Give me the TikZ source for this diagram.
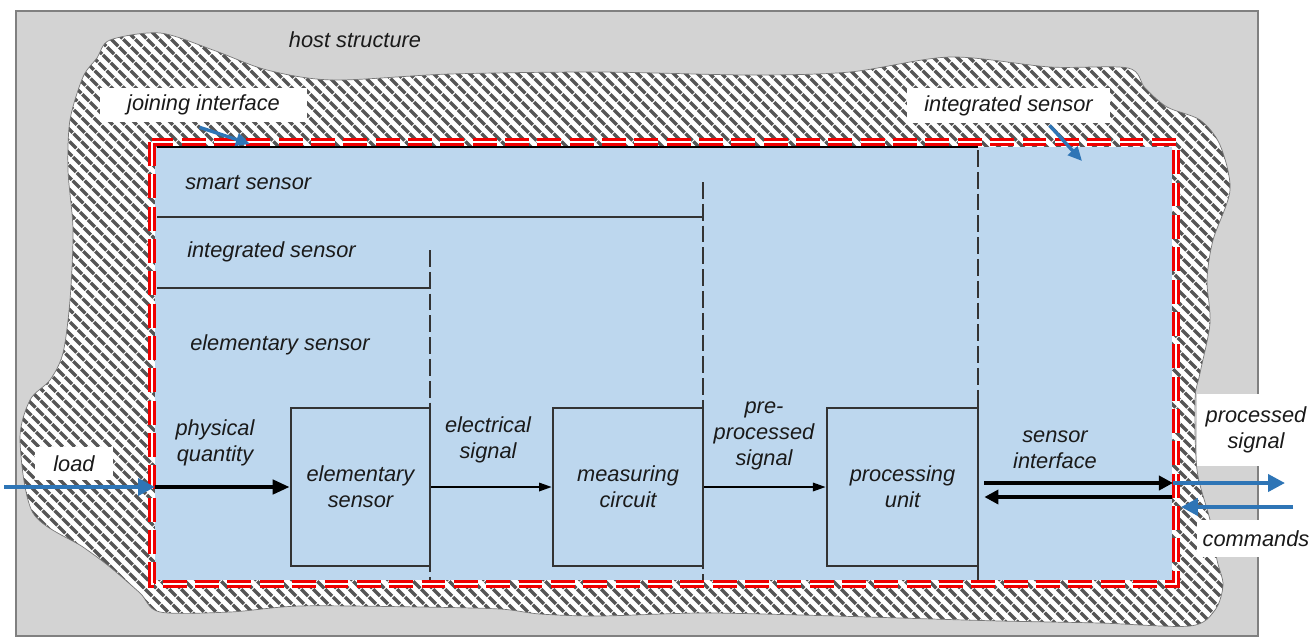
\documentclass[tikz,border=0pt]{standalone}
\usepackage{fontspec}
\setmainfont{Liberation Sans}
\usepackage{tikz}
\usetikzlibrary{calc,arrows.meta}
\definecolor{hostfill}{HTML}{D3D3D3}
\definecolor{hostline}{HTML}{808080}
\definecolor{hatchc}{HTML}{555555}
\definecolor{sensorfill}{HTML}{BDD7EE}
\definecolor{jointred}{HTML}{F00000}
\definecolor{pointer}{HTML}{2E75B6}
\definecolor{ink}{HTML}{1A1A1A}
\definecolor{wire}{HTML}{333333}
\newcommand\blobpath{plot[smooth cycle, tension=0.5] coordinates {
  (110,40) (160,33) (213,50) (267,70) (333,80) (450,74) (600,72) (750,75)
  (850,72) (950,57) (1050,67) (1128,68) (1145,88) (1167,107) (1200,120)
  (1220,145) (1230,190) (1213,240) (1207,280) (1210,323) (1200,373) (1195,400)
  (1197,470) (1210,520) (1217,560) (1223,585) (1215,610) (1190,626) (1100,623)
  (1000,621) (900,618) (800,615) (700,613) (600,616) (540,614) (500,609)
  (420,607) (300,606) (230,612) (160,612) (140,593) (110,567) (83,547)
  (33,513) (20,440) (30,400) (50,380) (63,353) (70,300) (73,230) (68,170)
  (70,120) (83,77) (97,58)}}
\tikzset{
  host/.style={fill=hostfill, draw=hostline, line width=0.8pt},
  blobline/.style={draw=hatchc!80, line width=0.5pt},
  hatch/.style={draw=hatchc, line width=2.3pt, dash pattern=on 7pt off 0.9pt},
  joint/.style={draw=jointred, line width=5.5pt, dash pattern=on 17pt off 6pt},
  jointw/.style={draw=white, line width=1.3pt, dash pattern=on 17pt off 6pt},
  bound/.style={draw=wire, line width=1.4pt, dash pattern=on 12pt off 3.5pt},
  rule/.style={draw=wire, line width=1.8pt},
  lab/.style={text=ink, font=\fontsize{15.5}{18.5}\selectfont\itshape, align=center, inner sep=0pt},
  tag/.style={lab, fill=white},
  block/.style={lab, draw=wire, fill=sensorfill, line width=1.8pt, minimum width=3.75cm, minimum height=3.95cm},
  heavy/.style={draw=black, line width=2.8pt, -{Triangle[length=12pt, width=10pt]}},
  light/.style={draw=black, line width=1.3pt, -{Triangle[length=9pt, width=6pt]}},
  iface/.style={draw=black, line width=2.8pt, -{Triangle[length=10pt, width=10pt]}},
  flow/.style={draw=pointer, line width=2.8pt, -{Triangle[length=12pt, width=12pt]}},
  hint/.style={draw=pointer, line width=2.4pt, -{Triangle[length=10pt, width=9pt]}},
}
\begin{document}
\begin{tikzpicture}[x=0.025cm, y=-0.025cm]
\useasboundingbox (0,0) rectangle (1315,640);
\fill[white] (0,0) rectangle (1315,640);
\draw[host] (16,11) rectangle (1258,636);
\begin{scope}
  \clip \blobpath;
  \fill[white] (0,0) rectangle (1315,640);
  \foreach \i in {-660,-648,...,1320}
    \draw[hatch] (\i,0) -- ++(650,650);
\end{scope}
\draw[blobline] \blobpath;
\fill[sensorfill] (155,147) rectangle (1172,580);
\draw[joint] (152,142) rectangle (1176,584);
\draw[jointw] (152,142) rectangle (1176,584);
\draw[draw=black, line width=1.8pt] (157,147) -- (978,147);
\draw[rule] (157,217) -- (703,217);
\draw[rule] (157,288) -- (430,288);
\draw[bound] (430,250) -- (430,580);
\draw[bound] (703,182) -- (703,580);
\draw[bound] (978,150) -- (978,580);

\node[lab] (hostlab) at (355,40) {host structure};
\node[lab, anchor=west] (smartlab) at (185,183) {smart sensor};
\node[lab, anchor=west] (intlab) at (187,252) {integrated sensor};
\node[lab, anchor=west] (elemlab) at (190,345) {elementary sensor};

\node[block, minimum width=3.48cm] (elem) at (360.5,487) {elementary\\sensor};
\node[block] (meas) at (628,487) {measuring\\circuit};
\node[block, minimum width=3.78cm] (proc) at (902.5,487) {processing\\unit};

\node[lab] (physlab) at (215,443) {physical\\quantity};
\node[lab] (eleclab) at (488,440) {electrical\\signal};
\node[lab] (prelab) at (764,436) {pre-\\processed\\signal};
\node[lab] (ifacelab) at (1055,450) {sensor\\interface};

\coordinate (loadstart) at (4,487);
\coordinate (entry) at (155,487);
\coordinate (ifout) at (1173,483);
\coordinate (ifin) at (1172,497);
\coordinate (sigend) at (1285,483);
\coordinate (cmdstart) at (1293,507);
\coordinate (cmdend) at (1181,507);
\coordinate (jointip) at (250,144);
\coordinate (inttip) at (1082,161);

\draw[heavy] (entry) -- (elem);
\draw[light] (elem) -- (meas);
\draw[light] (meas) -- (proc);
\draw[iface] ($(proc.east)+(5,-4)$) -- (ifout);
\draw[iface] (ifin) -- ($(proc.east)+(5,10)$);

\node[tag, minimum width=5.18cm, minimum height=0.85cm] (jointag) at (203.5,105) {joining interface};
\node[tag, minimum width=5.08cm, minimum height=0.88cm] (inttag) at (1008.5,105.5) {integrated sensor};
\node[tag, minimum width=1.95cm, minimum height=0.82cm] (loadtag) at (74,463.5) {load};
\node[tag, minimum width=2.95cm, minimum height=1.82cm] (sigtag) at (1256,430) {processed\\signal};
\node[tag, minimum width=2.95cm, minimum height=0.92cm] (cmdtag) at (1256,538.5) {commands};

\draw[flow] (loadstart) -- (entry);
\draw[flow] (ifout) -- (sigend);
\draw[flow] (cmdstart) -- (cmdend);
\draw[hint] ($(jointag.south)+(-4,5)$) -- (jointip);
\draw[hint] ($(inttag.south)+(41,2)$) -- (inttip);
\end{tikzpicture}
\end{document}
